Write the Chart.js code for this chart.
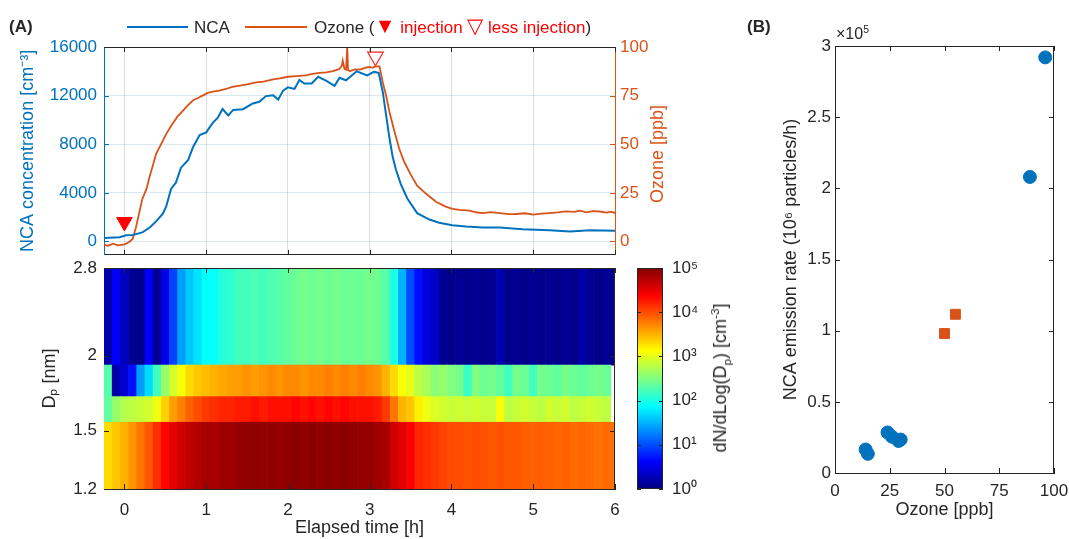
<!DOCTYPE html>
<html>
<head>
<meta charset="utf-8">
<script src="https://cdn.jsdelivr.net/npm/chart.js@4.4.1/dist/chart.umd.min.js"></script>
<style>
  body { margin: 0; background: #fff; }
  #wrap { position: relative; width: 1069px; height: 539px; overflow: hidden;
          font-family: "Liberation Sans", Arial, sans-serif; color: #262626; }
  canvas { position: absolute; }
  .lbl { position: absolute; white-space: nowrap; font-size: 17px; line-height: 1; }
  .rot { transform: translate(-50%, -50%) rotate(-90deg); }
  .lbl sup, .lbl sub { font-size: 0.65em; line-height: 0; }
  .tri { font-size: 1.25em; line-height: 0; }
  .line { position: absolute; height: 2px; }
</style>
</head>
<body>
<div id="wrap">
  <canvas id="lineChart" style="left:0;top:0" width="700" height="265"></canvas>
  <canvas id="heatChart" style="left:0;top:255px" width="625" height="284"></canvas>
  <canvas id="cbChart" style="left:600px;top:255px" width="140" height="284"></canvas>
  <canvas id="rateChart" style="left:740px;top:0" width="329" height="539"></canvas>

  <div class="lbl" style="left:9px;top:18px;font-weight:bold">(A)</div>
  <div class="lbl" style="left:747px;top:18px;font-weight:bold">(B)</div>

  <div class="line" style="left:127px;top:26px;width:61px;background:#0072BD"></div>
  <div class="lbl" style="left:194px;top:19px">NCA</div>
  <div class="line" style="left:245px;top:26px;width:62px;background:#D95319"></div>
  <div class="lbl" style="left:314px;top:19px">Ozone (<span style="color:#ff0000"><span class="tri">▼</span> injection <span class="tri">▽</span> less injection</span>)</div>

  <div class="lbl rot" style="left:657px;top:154px;color:#D95319;font-size:18px">Ozone [ppb]</div>
  <div class="lbl rot" style="left:720px;top:378px;font-size:18px">dN/dLog(D<sub>p</sub>) [cm<sup>-3</sup>]</div>
  <div class="lbl" style="left:836px;top:26px;font-size:16px">×10<sup>5</sup></div>
</div>

<script>
// ---- panel A, top: time series ----
const ncaTime = [-0.26, -0.06, 0.02, 0.1, 0.22, 0.31, 0.39, 0.47, 0.51, 0.57,
  0.63, 0.69, 0.78, 0.84, 0.92, 1.0, 1.08, 1.14, 1.2, 1.27,
  1.33, 1.45, 1.57, 1.65, 1.73, 1.82, 1.88, 1.94, 2.0, 2.08,
  2.14, 2.2, 2.29, 2.37, 2.47, 2.57, 2.63, 2.71, 2.84, 2.97,
  3.05, 3.11, 3.16, 3.2, 3.24, 3.28, 3.32, 3.38, 3.46, 3.58,
  3.73, 3.85, 4.01, 4.18, 4.38, 4.59, 4.87, 5.2, 5.45, 5.69, 6.0];
const ncaValues = [270, 345, 500, 530, 740, 1140, 1670, 2280, 2860, 4320,
  4850, 6050, 6710, 7770, 8750, 8970, 9760, 10160, 10900, 10370,
  10820, 10880, 11350, 11490, 11960, 12020, 11670, 12410, 12680, 12550,
  13290, 13000, 13000, 13550, 13210, 12810, 13470, 13260, 14000, 13660,
  13950, 13870, 12280, 10420, 8570, 6980, 5920, 4720, 3530, 2330,
  1800, 1540, 1330, 1220, 1140, 1140, 1010, 930, 820, 930, 875];

const ozoneTime = [-0.26, -0.2, -0.14, -0.08, 0.0, 0.06, 0.1, 0.14, 0.18, 0.22,
  0.27, 0.31, 0.35, 0.39, 0.45, 0.51, 0.57, 0.65, 0.7, 0.76,
  0.84, 0.9, 0.96, 1.02, 1.08, 1.16, 1.24, 1.32, 1.41, 1.5,
  1.61, 1.7, 1.82, 1.9, 2.0, 2.1, 2.22, 2.3, 2.39, 2.47,
  2.55, 2.63, 2.66, 2.67, 2.69, 2.71, 2.725, 2.73, 2.735, 2.76,
  2.82, 2.88, 2.94, 2.99, 3.04, 3.07, 3.12, 3.16, 3.2, 3.24,
  3.3, 3.36, 3.42, 3.5, 3.58, 3.69, 3.81, 3.93, 4.01, 4.1,
  4.22, 4.3, 4.38, 4.48, 4.59, 4.7, 4.79, 4.9, 5.0, 5.1,
  5.2, 5.3, 5.4, 5.5, 5.57, 5.65, 5.73, 5.81, 5.9, 5.95, 6.0];
const ozoneValues = [-1.5, -2.2, -1.2, -2.0, -1.5, -0.3, 1.3, 7.1, 14.6, 22,
  27, 33.7, 39.5, 45.3, 50.2, 55.2, 59.4, 64.3, 66.5, 69.3,
  72.6, 73.8, 75.1, 76.4, 77.1, 77.6, 78.4, 79.5, 80.1, 80.8,
  81.8, 82.2, 83.4, 83.9, 84.7, 85.0, 85.4, 86.2, 86.7, 87.0,
  87.6, 88.7, 90.5, 93, 88.8, 88.4, 100, 100, 88, 87.6,
  88.5, 88.4, 89.3, 89.7, 89.4, 90.0, 90.0, 81.8, 75.1, 66.8,
  56.9, 47.8, 41.1, 34.5, 28.7, 24.5, 20.4, 17.9, 16.7, 16.2,
  15.8, 15.0, 14.6, 15.1, 14.6, 14.0, 14.1, 14.5, 13.8, 14.3,
  14.6, 14.9, 15.5, 15.2, 15.8, 15.0, 15.6, 15.4, 14.8, 15.3, 14.6];

const injectionMarker = [{ x: 0, y: 1600 }];        // NCA axis
const lessInjectionMarker = [{ x: 3.07, y: 95 }];   // ozone axis

const hourTicks = [0, 1, 2, 3, 4, 5, 6];
const ncaTicks = [0, 4000, 8000, 12000, 16000];
const ozoneTicks = [0, 25, 50, 75, 100];

// ---- panel A, bottom: size distribution (log10 dN/dlogDp) ----
const heatTime = [-0.2, -0.1, 0, 0.1, 0.2, 0.3, 0.4, 0.5, 0.6, 0.7,
  0.8, 0.9, 1, 1.1, 1.2, 1.3, 1.4, 1.5, 1.6, 1.7,
  1.8, 1.9, 2, 2.1, 2.2, 2.3, 2.4, 2.5, 2.6, 2.7,
  2.8, 2.9, 3, 3.1, 3.2, 3.3, 3.4, 3.5, 3.6, 3.7,
  3.8, 3.9, 4, 4.1, 4.2, 4.3, 4.4, 4.5, 4.6, 4.7,
  4.8, 4.9, 5, 5.1, 5.2, 5.3, 5.4, 5.5, 5.6, 5.7,
  5.8, 5.9, 6];
const dpEdges = [1.2, 1.55, 1.71, 1.93, 2.8];
const dpTicks = [1.2, 1.5, 2, 2.8];

const logN_120_155 = [3.3, 3.4, 3.5, 3.65, 3.8, 3.95, 4.15, 4.35, 4.5, 4.6,
  4.7, 4.75, 4.8, 4.8, 4.85, 4.85, 4.9, 4.9, 4.92, 4.9,
  4.92, 4.9, 4.92, 4.95, 4.92, 4.95, 4.92, 4.95, 4.92, 4.95,
  4.92, 4.9, 4.9, 4.85, 4.8, 4.6, 4.5, 4.4, 4.2, 4.15,
  4.1, 4.05, 4.0, 4.0, 3.98, 4.0, 3.98, 3.95, 3.98, 3.95,
  3.95, 3.92, 3.9, 3.92, 3.9, 3.88, 3.9, 3.85, 3.88, 3.85,
  3.82, 3.85, 3.82];
const logN_155_171 = [2.35, 2.6, 2.75, 2.8, 2.85, 2.9, 3.05, 3.35, 3.6, 3.75,
  3.9, 4.0, 4.1, 4.15, 4.2, 4.2, 4.25, 4.25, 4.3, 4.25,
  4.3, 4.3, 4.3, 4.35, 4.3, 4.35, 4.3, 4.35, 4.3, 4.35,
  4.3, 4.3, 4.3, 4.25, 4.1, 3.8, 3.5, 3.4, 3.2, 3.05,
  2.95, 2.9, 2.85, 2.9, 2.85, 2.9, 2.85, 2.85, 3.1, 2.8,
  2.85, 2.9, 2.85, 2.8, 2.9, 2.85, 2.9, 2.8, 2.85, 2.9,
  2.85, 2.8, null];
const logN_171_193 = [2.3, 0.2, 0.4, 0.7, 1.4, 1.7, 2.2, 2.6, 2.9, 3.1,
  3.3, 3.4, 3.45, 3.5, 3.55, 3.6, 3.6, 3.65, 3.6, 3.65,
  3.7, 3.65, 3.7, 3.7, 3.65, 3.7, 3.7, 3.75, 3.7, 3.75,
  3.7, 3.75, 3.7, 3.65, 3.5, 3.3, 3.1, 3.0, 2.8, 2.7,
  2.55, 2.6, 2.5, 2.45, 2.15, 2.5, 2.4, 2.45, 2.35, 2.2,
  2.45, 2.4, 2.2, 2.45, 2.4, 2.35, 2.45, 2.4, 2.35, 2.4,
  2.45, 2.4, null];
const logN_193_280 = [0.2, 0.6, 0.3, 0.1, 0.05, 0.6, 0.1, 0.5, 0.95, 1.4,
  1.6, 1.75, 1.9, 1.9, 2.05, 2.1, 2.2, 2.2, 2.25, 2.2,
  2.25, 2.3, 2.35, 2.4, 2.45, 2.4, 2.45, 2.4, 2.45, 2.4,
  2.4, 2.4, 2.45, 2.4, 2.3, 2.0, 1.5, 1.0, 0.7, 0.45,
  0.35, 0.1, 0.05, 0.1, 0.05, 0.1, 0.05, 0.1, 0.25, 0.05,
  0.1, 0.05, 0.1, 0.05, 0.1, 0.05, 0.1, 0.05, 0.2, 0.1,
  0.05, 0.1, 0.05];
const bandLogN = [logN_120_155, logN_155_171, logN_171_193, logN_193_280];
const cbTicks = [1, 10, 100, 1000, 10000, 100000];

// ---- panel B: emission rate vs ozone ----
const circleOzone = [14, 15, 24, 26, 29, 30, 89, 96];
const circleRate = [16500, 13500, 28500, 25500, 22500, 23500, 208000, 292000];
const squareOzone = [50, 55];
const squareRate = [98000, 111500];
const ozoneAxisTicks = [0, 25, 50, 75, 100];
const rateTicks = [0, 50000, 100000, 150000, 200000, 250000, 300000];

const BLUE = '#0072BD';
const ORANGE = '#D95319';
const AXIS = '#262626';
const SUP = ['⁰', '¹', '²', '³', '⁴', '⁵'];

Chart.defaults.font.family = '"Liberation Sans", Arial, sans-serif';
Chart.defaults.font.size = 17;
Chart.defaults.color = AXIS;

// matlab jet, v = log10 value on 0..5
function jet(v) {
  const f = Math.min(1, Math.max(0, v / 5));
  const c = x => Math.round(255 * Math.min(1, Math.max(0, x)));
  return `rgb(${c(1.5 - Math.abs(4 * f - 3))},${c(1.5 - Math.abs(4 * f - 2))},${c(1.5 - Math.abs(4 * f - 1))})`;
}

const setTicks = list => scale => { scale.ticks = list.map(v => ({ value: v })); };
const fixWidth = w => s => { s.width = w; s.paddingTop = 0; s.paddingBottom = 0; };
const fixHeight = h => s => { s.height = h; s.paddingLeft = 0; s.paddingRight = 0; };

// small ticks pointing into the plot, like matlab
const innerTicks = {
  id: 'innerTicks',
  afterDraw(chart, args, opts) {
    if (!opts.length) return;
    const { ctx, chartArea: a } = chart;
    ctx.save();
    ctx.lineWidth = 1;
    Object.values(chart.scales).forEach(s => {
      if (s.options.display === false) return;
      ctx.strokeStyle = s.options.border.color;
      ctx.beginPath();
      s.ticks.forEach(t => {
        const p = Math.round(s.getPixelForValue(t.value)) + 0.5;
        if (s.isHorizontal()) {
          ctx.moveTo(p, a.bottom); ctx.lineTo(p, a.bottom - opts.length);
          ctx.moveTo(p, a.top); ctx.lineTo(p, a.top + opts.length);
        } else {
          const right = s.position === 'right';
          const edge = right ? a.right : a.left;
          ctx.moveTo(edge, p); ctx.lineTo(edge + (right ? -1 : 1) * opts.length, p);
          if (opts.mirror) {
            const other = right ? a.left : a.right;
            ctx.moveTo(other, p); ctx.lineTo(other + (right ? 1 : -1) * opts.length, p);
          }
        }
      });
      ctx.stroke();
    });
    ctx.restore();
  }
};

// box lines on sides without an axis
const frame = {
  id: 'frame',
  afterDraw(chart, args, opts) {
    if (!opts.sides) return;
    const { ctx, chartArea: a } = chart;
    ctx.save();
    ctx.strokeStyle = opts.color || AXIS;
    ctx.lineWidth = 1;
    ctx.beginPath();
    opts.sides.split(',').forEach(side => {
      if (side === 'top') { ctx.moveTo(a.left, a.top + 0.5); ctx.lineTo(a.right, a.top + 0.5); }
      if (side === 'right') { ctx.moveTo(a.right - 0.5, a.top); ctx.lineTo(a.right - 0.5, a.bottom); }
      if (side === 'bottom') { ctx.moveTo(a.left, a.bottom - 0.5); ctx.lineTo(a.right, a.bottom - 0.5); }
      if (side === 'left') { ctx.moveTo(a.left + 0.5, a.top); ctx.lineTo(a.left + 0.5, a.bottom); }
    });
    ctx.stroke();
    ctx.restore();
  }
};

// colour bar fill
const jetFill = {
  id: 'jetFill',
  beforeDatasetsDraw(chart, args, opts) {
    if (!opts.on) return;
    const { ctx, chartArea: a } = chart;
    const g = ctx.createLinearGradient(0, a.bottom, 0, a.top);
    [0, 0.125, 0.375, 0.625, 0.875, 1].forEach(f => g.addColorStop(f, jet(f * 5)));
    ctx.fillStyle = g;
    ctx.fillRect(a.left, a.top, a.right - a.left, a.bottom - a.top);
  }
};

Chart.register(innerTicks, frame, jetFill);

const noLegend = { legend: { display: false }, tooltip: { enabled: false } };
const noGrid = { display: false, drawTicks: false };

new Chart(document.getElementById('lineChart'), {
  type: 'line',
  data: {
    datasets: [
      {
        label: 'NCA',
        data: ncaTime.map((t, i) => ({ x: t, y: ncaValues[i] })),
        borderColor: BLUE, borderWidth: 2, pointRadius: 0, yAxisID: 'y'
      },
      {
        label: 'Ozone',
        data: ozoneTime.map((t, i) => ({ x: t, y: ozoneValues[i] })),
        borderColor: ORANGE, borderWidth: 1.8, pointRadius: 0, yAxisID: 'y1'
      },
      {
        type: 'scatter', label: 'injection', data: injectionMarker, yAxisID: 'y',
        pointStyle: 'triangle', pointRotation: 180, pointRadius: 9,
        pointBackgroundColor: '#ff0000', pointBorderColor: '#ff0000'
      },
      {
        type: 'scatter', label: 'less injection', data: lessInjectionMarker, yAxisID: 'y1',
        pointStyle: 'triangle', pointRotation: 180, pointRadius: 9,
        pointBackgroundColor: 'rgba(255,255,255,0)', pointBorderColor: '#ff2020', pointBorderWidth: 1.2
      }
    ]
  },
  options: {
    responsive: false,
    animation: false,
    layout: { padding: { top: 47, left: 0, right: 0, bottom: 0 } },
    plugins: { ...noLegend, frame: { sides: 'top' }, innerTicks: { length: 5 } },
    scales: {
      x: {
        type: 'linear', min: -0.25, max: 6,
        afterBuildTicks: setTicks(hourTicks), afterFit: fixHeight(3),
        ticks: { display: false },
        grid: { color: 'rgba(38,38,38,0.15)', drawTicks: false },
        border: { color: AXIS }
      },
      y: {
        min: -1100, max: 16000,
        afterBuildTicks: setTicks(ncaTicks), afterFit: fixWidth(104),
        ticks: { color: BLUE, padding: 7, callback: v => String(v) },
        grid: { color: 'rgba(0,114,189,0.15)', drawTicks: false },
        border: { color: BLUE },
        title: { display: true, text: 'NCA concentration [cm⁻³]', color: BLUE, font: { size: 18 }, padding: { top: 17 } }
      },
      y1: {
        position: 'right', min: -6.875, max: 100,
        afterBuildTicks: setTicks(ozoneTicks), afterFit: fixWidth(85),
        ticks: { color: ORANGE, padding: 5, callback: v => String(v) },
        grid: { drawOnChartArea: false, drawTicks: false },
        border: { color: ORANGE }
      }
    }
  }
});

new Chart(document.getElementById('heatChart'), {
  type: 'bar',
  data: {
    datasets: bandLogN.map((vals, b) => {
      const data = [];
      const colors = [];
      heatTime.forEach((t, i) => {
        if (vals[i] === null) return;
        data.push({ x: t, y: [dpEdges[b], dpEdges[b + 1]] });
        colors.push(jet(vals[i]));
      });
      return { label: 'Dp ' + dpEdges[b], data, backgroundColor: colors, borderWidth: 0 };
    })
  },
  options: {
    responsive: false,
    animation: false,
    layout: { padding: { top: 13, right: 10, left: 0, bottom: 0 } },
    datasets: { bar: { grouped: false, categoryPercentage: 1, barPercentage: 1 } },
    plugins: { ...noLegend, frame: { sides: 'top,right' }, innerTicks: { length: 5, mirror: true } },
    scales: {
      x: {
        type: 'linear', min: -0.25, max: 6, offset: false,
        afterBuildTicks: setTicks(hourTicks), afterFit: fixHeight(50),
        grid: { ...noGrid, offset: false },
        border: { color: AXIS },
        ticks: { padding: 11, autoSkip: false, callback: v => String(v) },
        title: { display: true, text: 'Elapsed time [h]', font: { size: 18 }, padding: { top: 0, bottom: 0 } }
      },
      y: {
        type: 'logarithmic', min: 1.2, max: 2.8,
        afterBuildTicks: setTicks(dpTicks), afterFit: fixWidth(104),
        grid: noGrid,
        border: { color: AXIS },
        ticks: { padding: 7, autoSkip: false, callback: v => String(v) },
        title: { display: true, text: 'Dₚ [nm]', font: { size: 18 }, padding: { top: 39 } }
      }
    }
  }
});

new Chart(document.getElementById('cbChart'), {
  type: 'scatter',
  data: { datasets: [] },
  options: {
    responsive: false,
    animation: false,
    layout: { padding: { left: 37, top: 13, bottom: 50, right: 0 } },
    plugins: { ...noLegend, jetFill: { on: true }, frame: { sides: 'top,right,bottom,left' }, innerTicks: { length: 4, mirror: true } },
    scales: {
      x: { display: false, min: 0, max: 1 },
      y: {
        type: 'logarithmic', position: 'right', min: 1, max: 100000,
        afterBuildTicks: setTicks(cbTicks), afterFit: fixWidth(77),
        grid: noGrid,
        border: { display: false, color: AXIS },
        ticks: { padding: 9, autoSkip: false, callback: v => '10' + SUP[Math.round(Math.log10(v))] }
      }
    }
  }
});

new Chart(document.getElementById('rateChart'), {
  type: 'scatter',
  data: {
    datasets: [
      {
        label: 'circles',
        data: circleOzone.map((x, i) => ({ x, y: circleRate[i] })),
        pointStyle: 'circle', pointRadius: 6.5,
        pointBackgroundColor: BLUE, pointBorderColor: BLUE
      },
      {
        label: 'squares',
        data: squareOzone.map((x, i) => ({ x, y: squareRate[i] })),
        pointStyle: 'rect', pointRadius: 7,
        pointBackgroundColor: ORANGE, pointBorderColor: ORANGE
      }
    ]
  },
  options: {
    responsive: false,
    animation: false,
    layout: { padding: { top: 46, right: 15, left: 0, bottom: 0 } },
    plugins: { ...noLegend, frame: { sides: 'top,right' }, innerTicks: { length: 5, mirror: true } },
    scales: {
      x: {
        min: 0, max: 100,
        afterBuildTicks: setTicks(ozoneAxisTicks), afterFit: fixHeight(66),
        grid: noGrid,
        border: { color: AXIS },
        ticks: { padding: 8, autoSkip: false, callback: v => String(v) },
        title: { display: true, text: 'Ozone [ppb]', font: { size: 18 }, padding: { top: 0, bottom: 18 } }
      },
      y: {
        min: 0, max: 300000,
        afterBuildTicks: setTicks(rateTicks), afterFit: fixWidth(95),
        grid: noGrid,
        border: { color: AXIS },
        ticks: { padding: 4, autoSkip: false, callback: v => String(v / 100000) },
        title: { display: true, text: 'NCA emission rate (10⁶ particles/h)', font: { size: 18 }, padding: { top: 40 } }
      }
    }
  }
});
</script>
</body>
</html>
